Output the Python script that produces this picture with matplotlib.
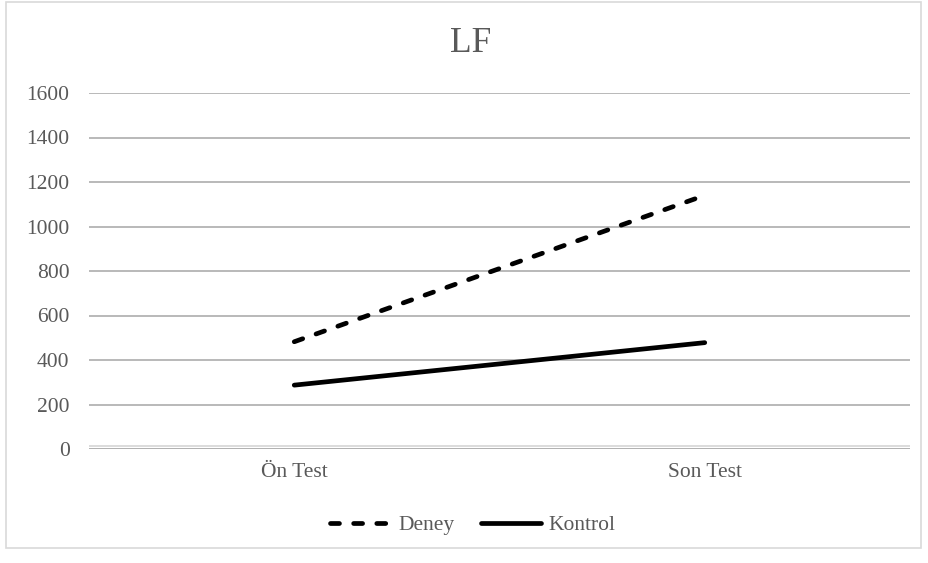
import matplotlib
matplotlib.use("Agg")
import matplotlib.pyplot as plt
import matplotlib.transforms as mtransforms
from matplotlib.patches import Rectangle

# Data
categories = ["Ön Test", "Son Test"]
deney = [482, 1140]
kontrol = [287, 478]
y_ticks = [0, 200, 400, 600, 800, 1000, 1200, 1400, 1600]

W, H = 929, 563
fig = plt.figure(figsize=(W / 100, H / 100), dpi=100)
plt.rcParams['font.family'] = ['Liberation Serif', 'DejaVu Serif']
text_color = "#595959"
grid_color = "#b3b3b3"
label_size = 15.5

# Chart frame
fig.patches.append(Rectangle((6 / W, 1 - 548 / H), (921 - 6) / W, (548 - 2) / H,
                             transform=fig.transFigure, fill=False,
                             edgecolor="#d9d9d9", linewidth=1.2))

ax = fig.add_axes([89 / W, 1 - 449 / H, (910 - 89) / W, (449 - 93) / H])
x = list(range(len(categories)))

ax.set_xlim(-0.5, len(categories) - 0.5)
ax.set_ylim(0, 1600)
ax.set_yticks(y_ticks)
ax.set_xticks(x)
ax.set_xticklabels(categories)

for s in ax.spines.values():
    s.set_visible(False)

for v in y_ticks[1:]:
    ax.axhline(v, color=grid_color, linewidth=1.3, zorder=1)
# Baseline (double rule)
ax.axhline(0, color="#aaaaaa", linewidth=1.3, zorder=1)
offset = mtransforms.offset_copy(ax.get_yaxis_transform(), fig=fig, x=0, y=3 / 100 * 72, units='points')
ax.plot([0, 1], [0, 0], transform=offset, color="#d9d9d9", linewidth=1.3, zorder=1)

ax.tick_params(axis='both', length=0, labelsize=label_size, labelcolor=text_color)
ax.tick_params(axis='y', pad=14)
ax.tick_params(axis='x', pad=10)

ax.plot(x, deney, color="black", linewidth=3.4, linestyle=(0, (1.9, 3.0)),
        dash_capstyle='round', solid_capstyle='round', label="Deney", zorder=3)
ax.plot(x, kontrol, color="black", linewidth=3.4, solid_capstyle='round',
        label="Kontrol", zorder=3)

fig.text(471 / W, 1 - 43 / H, "LF", ha='center', va='center',
         fontsize=25.5, color=text_color)

leg = fig.legend(loc='center', bbox_to_anchor=(473 / W, 1 - 525 / H),
                 ncol=2, frameon=False, fontsize=label_size, handlelength=2.8,
                 handletextpad=0.35, columnspacing=1.25, labelcolor=text_color)

fig.savefig("out.png", dpi=100, facecolor="white")
